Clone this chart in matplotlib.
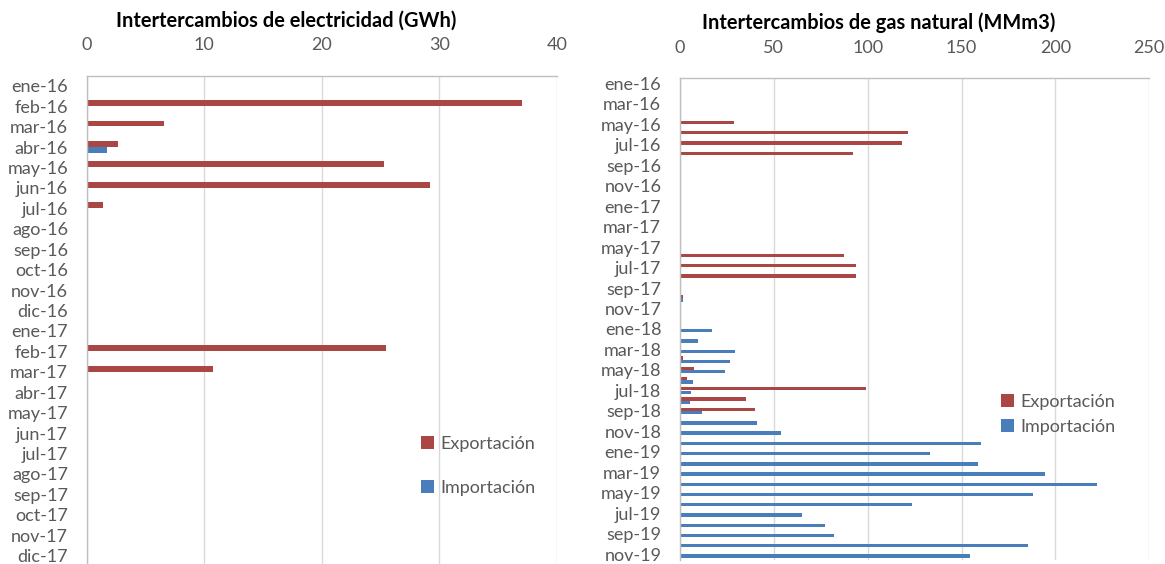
import numpy as np
import matplotlib
matplotlib.use("Agg")
import matplotlib.pyplot as plt

plt.rcParams['font.family'] = ['Lato', 'DejaVu Sans']

# electricidad (GWh), ene-16 .. dic-17
meses_elec = ['ene-16', 'feb-16', 'mar-16', 'abr-16', 'may-16', 'jun-16', 'jul-16', 'ago-16',
              'sep-16', 'oct-16', 'nov-16', 'dic-16', 'ene-17', 'feb-17', 'mar-17', 'abr-17',
              'may-17', 'jun-17', 'jul-17', 'ago-17', 'sep-17', 'oct-17', 'nov-17', 'dic-17']
elec_export = [0, 37.05, 6.6, 2.67, 25.28, 29.18, 1.38, 0,
               0, 0, 0, 0, 0, 25.5, 10.75, 0,
               0, 0, 0, 0, 0, 0, 0, 0]
elec_import = [0, 0, 0, 1.7, 0, 0, 0, 0,
               0, 0, 0, 0, 0, 0, 0, 0,
               0, 0, 0, 0, 0, 0, 0, 0]

# gas natural (MMm3), ene-16 .. nov-19
nombres = ['ene', 'feb', 'mar', 'abr', 'may', 'jun', 'jul', 'ago', 'sep', 'oct', 'nov', 'dic']
meses_gas = [f"{m}-{a}" for a in ['16', '17', '18', '19'] for m in nombres][:47]
gas_export = [0, 0, 0, 0, 28.9, 121.3, 118.4, 92.2, 0, 0, 0, 0,
              0, 0, 0, 0, 0, 87.4, 93.8, 93.8, 0, 1.5, 0, 0,
              0, 0, 0, 1.7, 7.2, 3.9, 99.3, 35.1, 40.0, 0, 0, 0,
              0, 0, 0, 0, 0, 0, 0, 0, 0, 0, 0]
gas_import = [0, 0, 0, 0, 0, 0, 0, 0, 0, 0, 0, 0,
              0, 0, 0, 0, 0, 0, 0, 0, 0, 1.4, 0, 0,
              17.3, 9.5, 29.4, 26.5, 24.0, 7.0, 6.0, 5.5, 11.5, 41.1, 54.0, 160.1,
              133.0, 158.9, 194.2, 222.3, 188.0, 123.8, 64.9, 77.4, 81.9, 185.2, 154.6]

rojo = '#AA4643'
azul = '#4A7EBB'
gris_txt = '#595959'
gris_lin = '#D9D9D9'

W, H = 1165, 564
fig = plt.figure(figsize=(W / 100, H / 100), dpi=100)

def estilo(ax, xmax, paso, n):
    ax.set_xlim(0, xmax)
    ax.set_ylim(n - 0.5, -0.5)
    ax.set_xticks(np.arange(0, xmax + 1, paso))
    ax.xaxis.tick_top()
    ax.tick_params(axis='x', length=0, pad=16, labelsize=13, colors=gris_txt)
    ax.tick_params(axis='y', length=0, pad=13.5, labelsize=13, colors=gris_txt)
    ax.grid(axis='x', color=gris_lin, lw=1)
    ax.set_axisbelow(True)
    for s in ['right', 'bottom']:
        ax.spines[s].set_visible(False)
    for s in ['top', 'left']:
        ax.spines[s].set_color('#BFBFBF')
        ax.spines[s].set_linewidth(1)

# panel izquierdo
ax1 = fig.add_axes([86.7 / W, (H - 565.9) / H, 470 / W, 490.4 / H])
y1 = np.arange(len(meses_elec))
ax1.barh(y1 - 0.15, elec_export, height=0.29, color=rojo, label='Exportación')
ax1.barh(y1 + 0.15, elec_import, height=0.29, color=azul, label='Importación')
estilo(ax1, 40, 10, len(meses_elec))
ax1.set_yticks(y1)
ax1.set_yticklabels(meses_elec)
ax1.legend(loc='center left', bbox_to_anchor=(0.711, 0.204), frameon=False,
           fontsize=13, labelcolor=gris_txt, handlelength=0.7, handleheight=0.7,
           handletextpad=0.4, borderpad=0, borderaxespad=0, labelspacing=1.55)

# panel derecho
ax2 = fig.add_axes([680 / W, (H - 559.5) / H, 469.3 / W, 481.5 / H])
y2 = np.arange(len(meses_gas))
ax2.barh(y2 - 0.165, gas_export, height=0.32, color=rojo, label='Exportación')
ax2.barh(y2 + 0.165, gas_import, height=0.32, color=azul, label='Importación')
estilo(ax2, 250, 50, len(meses_gas))
ax2.set_yticks(y2[::2])
ax2.set_yticklabels(meses_gas[::2])
ax2.legend(loc='center left', bbox_to_anchor=(0.684, 0.302), frameon=False,
           fontsize=13, labelcolor=gris_txt, handlelength=0.7, handleheight=0.7,
           handletextpad=0.4, borderpad=0, borderaxespad=0, labelspacing=0.5)

fig.text(286 / W, 1 - 21 / H, 'Intertercambios de electricidad (GWh)', ha='center', va='center',
         fontsize=14.4, fontweight='bold', color='black')
fig.text(879 / W, 1 - 23 / H, 'Intertercambios de gas natural (MMm3)', ha='center', va='center',
         fontsize=14.4, fontweight='bold', color='black')

fig.savefig('out.png', dpi=100)
